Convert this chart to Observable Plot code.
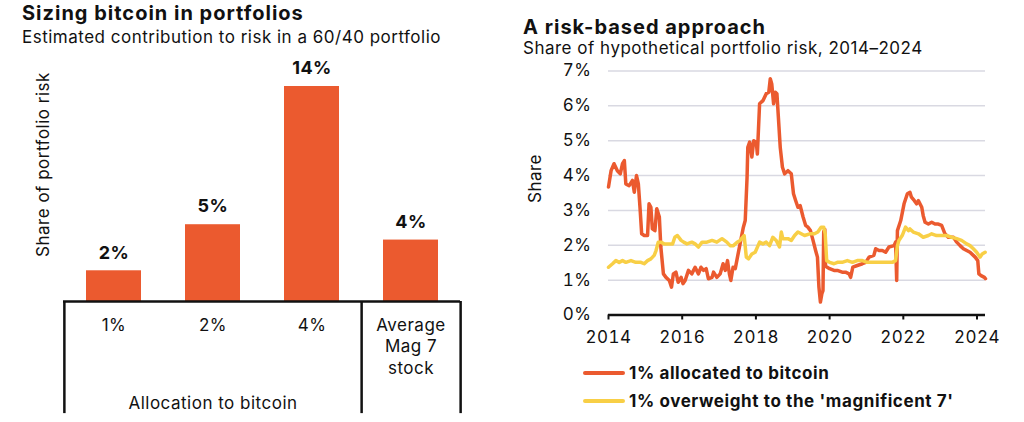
<!DOCTYPE html>
<html>
<head>
<meta charset="utf-8">
<script src="https://cdn.jsdelivr.net/npm/d3@7"></script>
<script src="https://cdn.jsdelivr.net/npm/@observablehq/plot@0.6"></script>
<style>
  html, body { margin: 0; padding: 0; background: #fff; }
  body { width: 1024px; height: 422px; position: relative; overflow: hidden; font-family: Inter, "Open Sans", sans-serif; color: #111; }
  .abs { position: absolute; white-space: nowrap; line-height: 1; }
  .title { font-size: 20px; font-weight: 700; letter-spacing: 1px; }
  .sub { font-size: 17px; font-weight: 400; letter-spacing: 0.5px; }
  .legend-row { position: absolute; display: flex; align-items: center; font-size: 17px; font-weight: 700; letter-spacing: 0.6px; }
  .swatch { width: 42px; height: 4px; border-radius: 2px; margin-right: 4px; }
  svg { overflow: visible; }
</style>
</head>
<body>
<div class="abs title" style="left:22px; top:3px;">Sizing bitcoin in portfolios</div>
<div class="abs sub" style="left:22px; top:29px;">Estimated contribution to risk in a 60/40 portfolio</div>
<div id="left" class="abs" style="left:0; top:50px;"></div>

<div class="abs title" style="left:523px; top:17px;">A risk-based approach</div>
<div class="abs sub" style="left:523px; top:40px;">Share of hypothetical portfolio risk, 2014–2024</div>
<div id="right" class="abs" style="left:520px; top:60px;"></div>
<div id="legend"></div>

<script>
// ---- Left panel: contribution to risk in a 60/40 portfolio ----
const categories = ["1%", "2%", "4%", "Average\nMag 7\nstock"];
const riskShare = [2, 5, 14, 4];
const groupLabel = "Allocation to bitcoin";

// ---- Right panel: share of hypothetical portfolio risk, 2014-2024 ----
const btcYears = [2014.00, 2014.07, 2014.15, 2014.24, 2014.32, 2014.38, 2014.43, 2014.47, 2014.56, 2014.65,
  2014.70, 2014.76, 2014.81, 2014.86, 2014.90, 2014.97, 2015.06, 2015.10, 2015.15, 2015.19,
  2015.26, 2015.31, 2015.38, 2015.42, 2015.49, 2015.56, 2015.65, 2015.71, 2015.76, 2015.83,
  2015.89, 2015.97, 2016.02, 2016.08, 2016.17, 2016.26, 2016.35, 2016.44, 2016.51, 2016.58,
  2016.65, 2016.71, 2016.81, 2016.85, 2016.94, 2017.03, 2017.11, 2017.17, 2017.23, 2017.28,
  2017.32, 2017.38, 2017.44, 2017.50, 2017.57, 2017.66, 2017.71, 2017.76, 2017.78, 2017.83,
  2017.89, 2017.94, 2018.01, 2018.04, 2018.10, 2018.19, 2018.28, 2018.35, 2018.39, 2018.43,
  2018.48, 2018.53, 2018.57, 2018.61, 2018.66, 2018.72, 2018.78, 2018.87, 2018.96, 2019.02,
  2019.08, 2019.14, 2019.20, 2019.28, 2019.35, 2019.41, 2019.48, 2019.55, 2019.62, 2019.67,
  2019.71, 2019.75, 2019.79, 2019.82, 2019.84, 2019.87, 2019.89, 2020.00, 2020.12, 2020.21,
  2020.34, 2020.43, 2020.53, 2020.57, 2020.63, 2020.75, 2020.89, 2020.98, 2021.07, 2021.20,
  2021.25, 2021.34, 2021.43, 2021.52, 2021.61, 2021.75, 2021.79, 2021.82, 2021.84, 2021.93,
  2022.02, 2022.11, 2022.18, 2022.22, 2022.30, 2022.36, 2022.41, 2022.50, 2022.54, 2022.59,
  2022.68, 2022.77, 2022.86, 2022.95, 2023.04, 2023.13, 2023.22, 2023.36, 2023.45, 2023.54,
  2023.63, 2023.72, 2023.81, 2023.95, 2024.02, 2024.05, 2024.11, 2024.20, 2024.23];
const btcShare = [3.67, 4.14, 4.34, 4.14, 4.05, 4.34, 4.43, 3.76, 3.71, 3.86,
  3.52, 4.00, 3.76, 3.00, 2.33, 2.28, 2.28, 3.19, 3.09, 2.47,
  2.42, 3.05, 2.81, 1.95, 1.18, 1.08, 0.99, 0.80, 1.18, 1.23,
  0.94, 1.08, 0.90, 0.99, 1.28, 1.18, 1.37, 1.18, 1.37, 1.28,
  1.33, 1.04, 1.08, 1.23, 1.08, 1.18, 1.47, 1.28, 1.56, 1.18,
  0.99, 1.37, 1.33, 1.66, 2.04, 2.52, 2.71, 3.95, 4.81, 4.96,
  4.53, 5.00, 4.95, 4.62, 6.06, 6.15, 6.35, 6.39, 6.78, 6.63,
  6.06, 6.39, 6.35, 5.67, 4.81, 4.24, 4.05, 4.14, 4.05, 3.48,
  3.28, 3.09, 3.14, 2.81, 2.57, 2.52, 2.42, 2.14, 1.85, 1.66,
  0.80, 0.37, 0.61, 0.70, 2.40, 2.45, 1.40, 1.33, 1.28, 1.28,
  1.23, 1.23, 1.18, 1.08, 1.37, 1.42, 1.47, 1.51, 1.66, 1.71,
  1.90, 1.85, 1.85, 1.80, 1.95, 1.99, 2.09, 0.99, 2.42, 2.71,
  3.19, 3.48, 3.52, 3.38, 3.28, 3.19, 3.28, 3.09, 2.85, 2.66,
  2.61, 2.66, 2.61, 2.61, 2.57, 2.33, 2.23, 2.23, 2.09, 1.99,
  1.90, 1.85, 1.80, 1.66, 1.56, 1.18, 1.13, 1.08, 1.04];

const magYears = [2014.00, 2014.11, 2014.20, 2014.29, 2014.38, 2014.47, 2014.61, 2014.74, 2014.88, 2014.97,
  2015.06, 2015.15, 2015.24, 2015.29, 2015.35, 2015.42, 2015.51, 2015.65, 2015.74, 2015.80,
  2015.87, 2015.97, 2016.04, 2016.13, 2016.26, 2016.35, 2016.44, 2016.54, 2016.67, 2016.81,
  2016.94, 2017.08, 2017.21, 2017.30, 2017.39, 2017.49, 2017.57, 2017.68, 2017.74, 2017.80,
  2017.89, 2017.98, 2018.10, 2018.19, 2018.28, 2018.37, 2018.46, 2018.55, 2018.64, 2018.69,
  2018.73, 2018.87, 2018.96, 2019.05, 2019.14, 2019.23, 2019.32, 2019.46, 2019.59, 2019.68,
  2019.77, 2019.84, 2019.88, 2019.92, 2020.00, 2020.12, 2020.21, 2020.34, 2020.48, 2020.62,
  2020.75, 2020.89, 2021.02, 2021.16, 2021.29, 2021.43, 2021.56, 2021.70, 2021.79, 2021.84,
  2021.88, 2021.97, 2022.06, 2022.14, 2022.18, 2022.27, 2022.41, 2022.54, 2022.68, 2022.77,
  2022.90, 2023.04, 2023.17, 2023.31, 2023.45, 2023.58, 2023.72, 2023.81, 2023.90, 2023.99,
  2024.08, 2024.14, 2024.22];
const magShare = [1.37, 1.47, 1.56, 1.51, 1.56, 1.51, 1.56, 1.51, 1.51, 1.47,
  1.56, 1.61, 1.71, 1.85, 2.09, 2.09, 2.04, 2.04, 2.04, 2.23,
  2.28, 2.14, 2.09, 2.04, 2.09, 2.04, 1.95, 2.09, 2.09, 2.14,
  2.09, 2.19, 2.09, 1.99, 1.99, 2.09, 2.14, 2.28, 1.66, 1.61,
  1.75, 1.80, 2.09, 2.04, 2.09, 1.99, 2.23, 2.14, 1.95, 2.38,
  2.19, 2.19, 2.14, 2.28, 2.38, 2.33, 2.28, 2.33, 2.33, 2.38,
  2.52, 2.52, 2.33, 1.56, 1.51, 1.47, 1.51, 1.51, 1.56, 1.51,
  1.56, 1.56, 1.51, 1.51, 1.51, 1.51, 1.51, 1.51, 1.56, 1.99,
  2.14, 2.28, 2.52, 2.42, 2.47, 2.38, 2.33, 2.23, 2.28, 2.33,
  2.28, 2.28, 2.28, 2.23, 2.19, 2.14, 2.04, 1.99, 1.90, 1.80,
  1.66, 1.75, 1.80];

const xTicks = [2014, 2016, 2018, 2020, 2022, 2024];
const yTicks = [0, 1, 2, 3, 4, 5, 6, 7];
const seriesNames = ["1% allocated to bitcoin", "1% overweight to the 'magnificent 7'"];

const ORANGE = "#EB5A2F";
const YELLOW = "#F8CF46";
const FONT = "Inter, 'Open Sans', sans-serif";
const SVG_STYLE = `font-family: ${FONT}; font-size: 17px; letter-spacing: 0.5px; color: #111; background: transparent;`;

// ---------- Left: bar chart ----------
const bars = categories.map((c, i) => ({category: c, value: riskShare[i]}));
const leftW = 480, leftH = 372, lm = 63, rm = 20;
const step = (leftW - lm - rm) / categories.length;
const panelFloor = -7.3; // depth of the category panel below the baseline

const left = Plot.plot({
  width: leftW, height: leftH,
  marginLeft: lm, marginRight: rm, marginTop: 0, marginBottom: 0,
  style: SVG_STYLE,
  x: {domain: categories, padding: 0, axis: null},
  y: {domain: [0, 14], range: [251, 36], axis: null},
  marks: [
    Plot.barY(bars, {x: "category", y: "value", fill: ORANGE, insetLeft: 22, insetRight: 22}),
    Plot.text(bars, {x: "category", y: "value", text: d => d.value + "%", dy: -18,
      fontWeight: 700, fontSize: 18, fill: "#111"}),
    Plot.ruleY([0], {stroke: "#111", strokeWidth: 2.5}),
    Plot.ruleX([categories[0]], {x: d => d, y1: 0, y2: panelFloor, dx: -step / 2, stroke: "#111", strokeWidth: 2.5}),
    Plot.ruleX(categories.slice(2), {x: d => d, y1: 0, y2: panelFloor, dx: step / 2, stroke: "#111", strokeWidth: 2.5}),
    Plot.text(categories, {x: d => d, y: 0, text: d => d, lineAnchor: "top", dy: 14,
      lineHeight: 1.27, fontSize: 17, fill: "#111"}),
    Plot.text([groupLabel], {x: () => categories[1], y: 0, text: d => d, dy: 102, fontSize: 17, fill: "#111"}),
    Plot.text(["Share of portfolio risk"], {frameAnchor: "top-left", dx: -20, dy: 114, rotate: -90,
      textAnchor: "middle", lineAnchor: "middle", fontSize: 17, fill: "#111"})
  ]
});
document.getElementById("left").append(left);

// ---------- Right: line chart ----------
const btc = btcYears.map((t, i) => ({t, v: btcShare[i]}));
const mag = magYears.map((t, i) => ({t, v: magShare[i]}));

const right = Plot.plot({
  width: 504, height: 300,
  marginLeft: 88, marginRight: 39, marginTop: 10.5, marginBottom: 45.5,
  style: SVG_STYLE,
  x: {domain: [2014, 2024.23]},
  y: {domain: [0, 7]},
  marks: [
    Plot.gridY(yTicks.slice(1), {stroke: "#d9d9e2", strokeOpacity: 1, strokeWidth: 1.5}),
    Plot.axisY({ticks: yTicks, tickSize: 0, tickPadding: 17, label: null, tickFormat: d => d + "%",
      fontSize: 17}),
    Plot.axisX({ticks: xTicks, tickSize: 5, tickPadding: 11, label: null, tickFormat: d => String(d),
      stroke: "#111", strokeWidth: 2, fontSize: 17}),
    Plot.ruleY([0], {stroke: "#111", strokeWidth: 2.5}),
    Plot.lineY(btc, {x: "t", y: "v", stroke: ORANGE, strokeWidth: 3.5, strokeLinejoin: "round"}),
    Plot.lineY(mag, {x: "t", y: "v", stroke: YELLOW, strokeWidth: 3.5, strokeLinejoin: "round"}),
    Plot.text(["Share"], {frameAnchor: "left", dx: -73, dy: -14.5, rotate: -90,
      textAnchor: "middle", lineAnchor: "middle", fontSize: 17, fill: "#111"})
  ]
});
document.getElementById("right").append(right);

// ---------- Legend ----------
const legend = document.getElementById("legend");
[ORANGE, YELLOW].forEach((color, i) => {
  const row = document.createElement("div");
  row.className = "legend-row";
  row.style.left = "583px";
  row.style.top = (363 + i * 27.5) + "px";
  row.style.height = "20px";
  const sw = document.createElement("div");
  sw.className = "swatch";
  sw.style.background = color;
  const label = document.createElement("span");
  label.textContent = seriesNames[i];
  row.append(sw, label);
  legend.append(row);
});
</script>
</body>
</html>
